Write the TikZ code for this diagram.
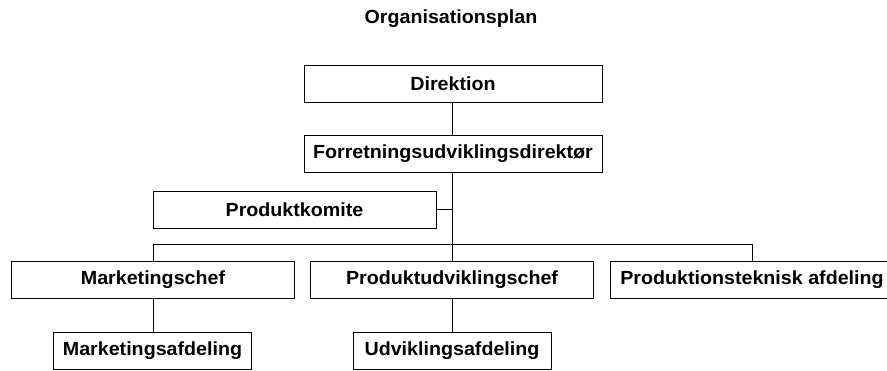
\documentclass[tikz,border=0pt]{standalone}
\usepackage{fontspec}
\newfontfamily\orgfont{Liberation Sans}[FakeStretch=1.035]
\begin{document}
\begin{tikzpicture}[x=1bp,y=-1bp,
  orgbox/.style={draw=black, line width=1bp, fill=white, inner sep=0pt,
    minimum height=37bp, font=\orgfont\bfseries\fontsize{19bp}{22bp}\selectfont},
  wide/.style={orgbox, minimum width=298bp},
  mid/.style={orgbox, minimum width=283bp},
  small/.style={orgbox, minimum width=198bp},
  link/.style={draw=black, line width=1bp}]
  \useasboundingbox (0,0) rectangle (887,370);
  \fill[white] (0,0) rectangle (887,370);
  \clip (0,0) rectangle (887,370);

  % heading
  \node[font=\orgfont\bfseries\fontsize{19bp}{22bp}\selectfont] (title) at (451,18.5) {Organisationsplan};

  % boxes
  \node[wide] (dir)  at (453,83.5)  {Direktion};
  \node[wide] (forr) at (453,154)   {Forretningsudviklingsdirektør};
  \node[mid]  (pk)   at (294.5,209.5) {Produktkomite};
  \node[mid]  (mc)   at (153,279.5) {Marketingschef};
  \node[mid]  (pu)   at (452,279.5) {Produktudviklingschef};
  \node[mid]  (pt)   at (752,279.5) {Produktionsteknisk afdeling};
  \node[small] (ma)  at (152.5,350.5) {Marketingsafdeling};
  \node[small] (ua)  at (452,350.5) {Udviklingsafdeling};

  % connectors
  \coordinate (bus) at (452,244);
  \path[link] (dir.south -| bus) -- (forr.north -| bus);
  \path[link] (forr.south -| bus) -- (bus);
  \path[link] (pk.east) -- (pk.east -| bus);
  \path[link] (mc.north) -- (mc.north |- bus) -- (pt.north |- bus) -- (pt.north);
  \path[link] (bus) -- (pu.north);
  \path[link] (mc.south) -- (ma.north -| mc.south);
  \path[link] (pu.south) -- (ua.north -| pu.south);
\end{tikzpicture}
\end{document}
